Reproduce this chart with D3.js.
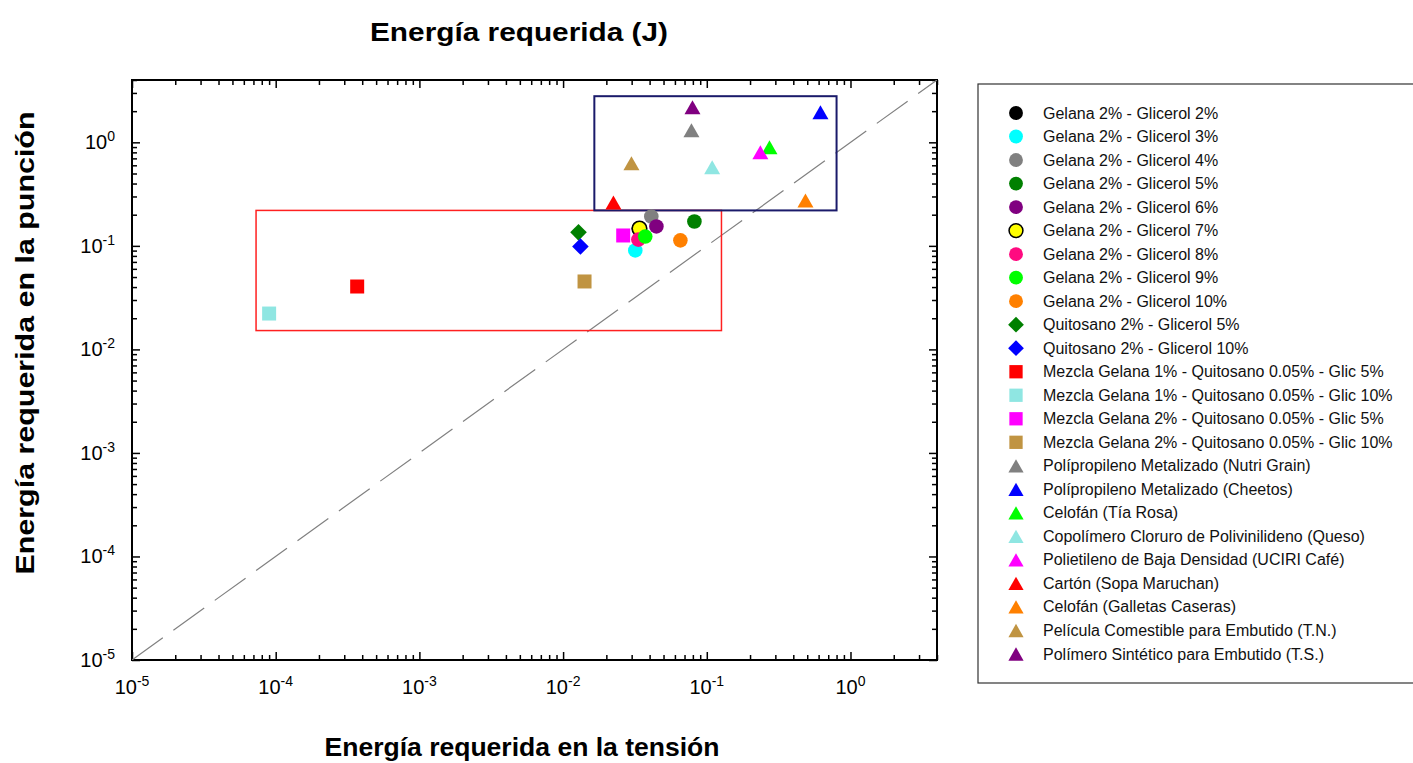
<!DOCTYPE html>
<html>
<head>
<meta charset="utf-8">
<script src="https://cdn.jsdelivr.net/npm/d3@7"></script>
<style>
body{margin:0;background:#fff;}
text{font-family:"Liberation Sans",Arial,sans-serif;}
</style>
</head>
<body>
<svg id="chart" width="1413" height="763"></svg>
<script>
// series, in legend order
var seriesNames=["Gelana 2% - Glicerol 2%","Gelana 2% - Glicerol 3%","Gelana 2% - Glicerol 4%","Gelana 2% - Glicerol 5%",
	"Gelana 2% - Glicerol 6%","Gelana 2% - Glicerol 7%","Gelana 2% - Glicerol 8%","Gelana 2% - Glicerol 9%","Gelana 2% - Glicerol 10%",
	"Quitosano 2% - Glicerol 5%","Quitosano 2% - Glicerol 10%",
	"Mezcla Gelana 1% - Quitosano 0.05% - Glic 5%","Mezcla Gelana 1% - Quitosano 0.05% - Glic 10%",
	"Mezcla Gelana 2% - Quitosano 0.05% - Glic 5%","Mezcla Gelana 2% - Quitosano 0.05% - Glic 10%",
	"Polípropileno Metalizado (Nutri Grain)","Polípropileno Metalizado (Cheetos)","Celofán (Tía Rosa)",
	"Copolímero Cloruro de Polivinilideno (Queso)","Polietileno de Baja Densidad (UCIRI Café)","Cartón (Sopa Maruchan)",
	"Celofán (Galletas Caseras)","Película Comestible para Embutido (T.N.)","Polímero Sintético para Embutido (T.S.)"];
var seriesShapes=["circle","circle","circle","circle","circle","circle","circle","circle","circle",
	"diamond","diamond","square","square","square","square",
	"triangle","triangle","triangle","triangle","triangle","triangle","triangle","triangle","triangle"];
var seriesColors=["#000000","#00ffff","#808080","#008000","#800080","#ffff00","#ff0a80","#00ff00","#ff8000",
	"#008000","#0000ff","#ff0000","#8fe6e2","#ff00ff","#c09442",
	"#808080","#0000ff","#00ff00","#8fe6e2","#ff00ff","#ff0000","#ff8000","#c09442","#800080"];
// energía en la tensión (x) y en la punción (y)
var tensionVals=[0.0337,0.0318,0.0411,0.082,0.0446,0.034,0.0334,0.0373,0.0655,
	0.0128,0.0132,0.000369,0.00009,0.0262,0.0141,
	0.0782,0.618,0.273,0.109,0.236,0.0224,0.486,0.0299,0.0795];
var puncionVals=[0.147,0.0903,0.192,0.172,0.154,0.147,0.115,0.123,0.113,
	0.135,0.0986,0.0405,0.0222,0.126,0.0453,
	1.31,1.95,0.895,0.573,0.80,0.263,0.275,0.627,2.18];
// recuadros de agrupación [x0,x1,y0,y1]
var redBox=[0.000073,0.1265,0.0152,0.22];
var blueBox=[0.0165,0.80,0.22,2.79];
var decades=[1e-5,1e-4,1e-3,1e-2,1e-1,1];
var exponents=["-5","-4","-3","-2","-1","0"];

var svg=d3.select("#chart");
var pLeft=132,pRight=937,pTop=80,pBottom=660;
var x=d3.scaleLog().domain([1e-5,4]).range([pLeft,pRight]);
var y=d3.scaleLog().domain([1e-5,4]).range([pBottom,pTop]);

var minor=[];
decades.forEach(function(d){
	for(var k=2;k<=9;k++){ if(d*k<=4) minor.push(d*k); }
});

function ticks(axis,vals,len){
	return axis.tickValues(vals).tickSize(len).tickFormat("");
}
function drawAxis(gen,tr){
	var g=svg.append("g").attr("transform",tr).call(gen);
	g.select(".domain").remove();
	g.selectAll("line").attr("stroke","#000").attr("stroke-width",1.5);
}
// inner ticks on all four sides
drawAxis(ticks(d3.axisBottom(x),minor,-5),"translate(0,"+pBottom+")");
drawAxis(ticks(d3.axisBottom(x),decades,-8),"translate(0,"+pBottom+")");
drawAxis(ticks(d3.axisTop(x),minor,-5),"translate(0,"+pTop+")");
drawAxis(ticks(d3.axisTop(x),decades,-8),"translate(0,"+pTop+")");
drawAxis(ticks(d3.axisLeft(y),minor,-5),"translate("+pLeft+",0)");
drawAxis(ticks(d3.axisLeft(y),decades,-8),"translate("+pLeft+",0)");
drawAxis(ticks(d3.axisRight(y),minor,-5),"translate("+pRight+",0)");
drawAxis(ticks(d3.axisRight(y),decades,-8),"translate("+pRight+",0)");

svg.append("rect").attr("x",pLeft).attr("y",pTop).attr("width",pRight-pLeft).attr("height",pBottom-pTop)
	.attr("fill","none").attr("stroke","#000").attr("stroke-width",2);

// tick labels 10^n
decades.forEach(function(d,i){
	var t=svg.append("text").attr("x",x(d)).attr("y",694).attr("text-anchor","middle").attr("font-size",20);
	t.append("tspan").text("10");
	t.append("tspan").attr("dy",-8).attr("font-size",14).text(exponents[i]);
	var t2=svg.append("text").attr("x",115).attr("y",y(d)+7).attr("text-anchor","end").attr("font-size",20);
	t2.append("tspan").text("10");
	t2.append("tspan").attr("dy",-8).attr("font-size",14).text(exponents[i]);
});

// clip for the plot area
svg.append("clipPath").attr("id","plotclip").append("rect")
	.attr("x",pLeft).attr("y",pTop).attr("width",pRight-pLeft).attr("height",pBottom-pTop);
var plot=svg.append("g").attr("clip-path","url(#plotclip)");

// y = x
plot.append("line").attr("x1",x(1e-5)).attr("y1",y(1e-5)).attr("x2",x(4)).attr("y2",y(4))
	.attr("stroke","#808080").attr("stroke-width",1.2).attr("stroke-dasharray","38,13");

plot.append("rect").attr("x",x(redBox[0])).attr("y",y(redBox[3]))
	.attr("width",x(redBox[1])-x(redBox[0])).attr("height",y(redBox[2])-y(redBox[3]))
	.attr("fill","none").attr("stroke","#ff2020").attr("stroke-width",1.5);
plot.append("rect").attr("x",x(blueBox[0])).attr("y",y(blueBox[3]))
	.attr("width",x(blueBox[1])-x(blueBox[0])).attr("height",y(blueBox[2])-y(blueBox[3]))
	.attr("fill","none").attr("stroke","#1a1a6a").attr("stroke-width",2);

function marker(shape){
	switch(shape){
		case "circle": return "M7.3,0A7.3,7.3 0 1,1 -7.3,0A7.3,7.3 0 1,1 7.3,0Z";
		case "square": return "M-7,-7H7V7H-7Z";
		case "diamond": return "M0,-8.3L8.3,0L0,8.3L-8.3,0Z";
		case "triangle": return "M0,-7L8,7H-8Z";
	}
}

seriesNames.forEach(function(name,i){
	plot.append("path").attr("d",marker(seriesShapes[i]))
		.attr("transform","translate("+x(tensionVals[i])+","+y(puncionVals[i])+")")
		.attr("fill",seriesColors[i])
		.attr("stroke",i==5?"#000":"none").attr("stroke-width",1.6);
});

// titles
svg.append("text").attr("x",519).attr("y",41).attr("text-anchor","middle")
	.attr("font-size",26).attr("font-weight","bold").attr("textLength",298).attr("lengthAdjust","spacingAndGlyphs")
	.text("Energía requerida (J)");
svg.append("text").attr("x",522).attr("y",756).attr("text-anchor","middle")
	.attr("font-size",26).attr("font-weight","bold").attr("textLength",395).attr("lengthAdjust","spacingAndGlyphs")
	.text("Energía requerida en la tensión");
svg.append("text").attr("transform","translate(34,343) rotate(-90)").attr("text-anchor","middle")
	.attr("font-size",26).attr("font-weight","bold").attr("textLength",463).attr("lengthAdjust","spacingAndGlyphs")
	.text("Energía requerida en la punción");

// legend
var lg=svg.append("g");
lg.append("rect").attr("x",978).attr("y",84).attr("width",450).attr("height",599)
	.attr("fill","#fff").attr("stroke","#333").attr("stroke-width",1.2);
var row=d3.scaleLinear().domain([0,23]).range([113,654]);
seriesNames.forEach(function(name,i){
	lg.append("path").attr("d",marker(seriesShapes[i]))
		.attr("transform","translate(1016,"+row(i)+") scale(0.95)")
		.attr("fill",seriesColors[i])
		.attr("stroke",i==5?"#000":"none").attr("stroke-width",1.6);
	lg.append("text").attr("x",1043).attr("y",row(i)+5.5).attr("font-size",16).attr("fill","#111").text(name);
});
</script>
</body>
</html>
